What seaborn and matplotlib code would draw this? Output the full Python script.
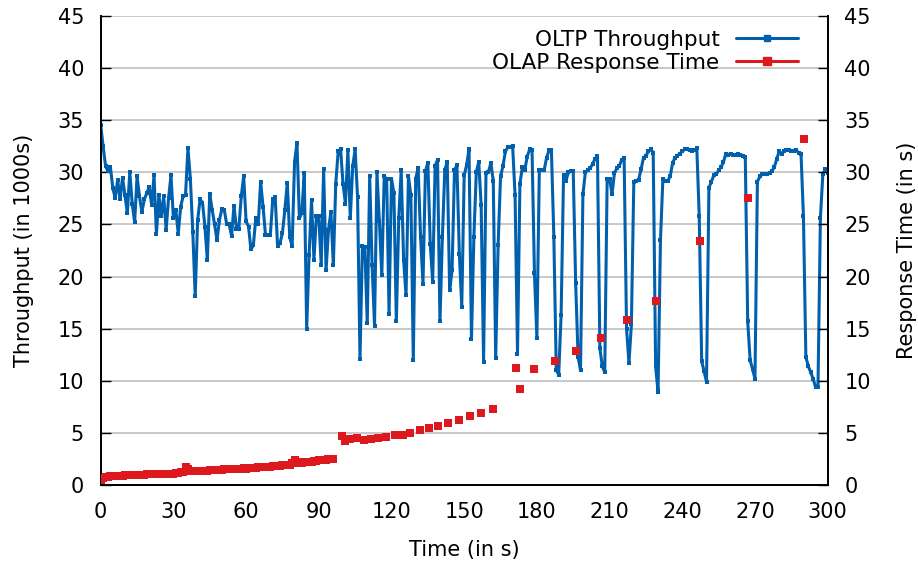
import matplotlib
matplotlib.use("Agg")
import matplotlib.pyplot as plt
import seaborn as sns
import pandas as pd
from matplotlib.lines import Line2D

# OLTP throughput (in 1000s), one sample per second, 0..300 s
oltp_tps = [
    34.5, 32.5, 30.6, 30.1, 30.5, 28.5, 27.5, 29.3, 27.4, 29.5,
    27.8, 26.1, 30.0, 27.0, 25.2, 29.6, 27.7, 26.2, 27.4, 28.0,
    28.6, 26.9, 29.7, 24.1, 27.8, 25.8, 27.7, 24.5, 27.5, 29.7,
    25.6, 26.4, 24.1, 26.7, 27.7, 27.8, 32.3, 29.4, 24.3, 18.1,
    25.4, 27.4, 27.1, 24.8, 21.6, 27.9, 26.4, 25.0, 23.5, 25.4,
    26.5, 26.4, 25.0, 25.0, 23.9, 26.8, 24.6, 24.6, 27.7, 29.6,
    25.3, 24.8, 22.6, 23.0, 25.6, 25.0, 29.1, 26.7, 24.0, 24.0,
    24.0, 27.4, 27.6, 22.9, 23.2, 24.2, 26.4, 29.0, 23.8, 22.9,
    31.0, 32.8, 25.6, 26.1, 29.9, 15.0, 22.1, 27.3, 21.6, 25.8,
    25.8, 21.1, 30.3, 20.6, 24.5, 26.2, 21.1, 28.9, 32.0, 32.2,
    28.9, 27.0, 32.1, 25.6, 30.6, 32.2, 27.6, 12.1, 22.9, 22.8,
    15.5, 29.6, 21.1, 15.3, 30.0, 25.3, 20.1, 29.6, 29.4, 16.4,
    29.4, 28.0, 15.7, 25.6, 30.2, 21.6, 18.2, 29.6, 27.8, 12.0,
    29.4, 30.4, 23.8, 19.3, 30.1, 30.9, 23.1, 19.5, 30.6, 31.2,
    15.7, 23.8, 30.2, 31.0, 18.7, 20.6, 30.2, 30.7, 22.2, 17.1,
    29.7, 30.7, 32.2, 14.0, 23.8, 30.0, 31.0, 26.9, 11.8, 29.9,
    30.0, 30.9, 29.2, 12.2, 23.0, 29.6, 30.6, 32.0, 32.4, 32.4,
    32.5, 27.8, 12.6, 28.9, 30.5, 30.2, 31.5, 32.2, 32.1, 20.3,
    14.1, 30.2, 30.2, 30.2, 31.4, 32.1, 32.1, 23.8, 11.0, 10.6,
    16.3, 29.7, 29.2, 30.0, 30.1, 30.1, 19.4, 12.3, 11.0, 27.9,
    30.0, 30.2, 30.4, 30.8, 31.3, 31.6, 13.1, 11.4, 10.8, 29.4,
    29.4, 27.9, 29.9, 30.4, 30.6, 31.2, 31.4, 15.0, 11.7, 15.4,
    29.1, 29.2, 29.3, 30.3, 31.4, 31.6, 32.0, 32.2, 31.9, 11.4,
    8.9, 23.5, 29.4, 29.2, 29.2, 29.6, 30.9, 31.4, 31.6, 31.8,
    32.0, 32.2, 32.2, 32.1, 32.0, 32.1, 32.3, 25.8, 11.9, 10.9,
    9.9, 28.5, 29.1, 29.7, 29.8, 30.2, 30.5, 31.0, 31.8, 31.7,
    31.8, 31.7, 31.7, 31.8, 31.7, 31.6, 31.5, 15.7, 12.0, 11.1,
    10.2, 29.1, 29.6, 29.8, 29.8, 29.8, 29.9, 30.1, 30.5, 31.3,
    32.0, 31.8, 32.0, 32.1, 32.1, 32.0, 32.0, 32.1, 31.9, 31.8,
    25.8, 12.3, 11.4, 10.8, 10.2, 9.4, 9.4, 25.6, 29.8, 30.3,
    29.9,
]
oltp_time = list(range(len(oltp_tps)))

# OLAP response time (in s): one query per second at first, then sparser
olap_resp = [
    0.5, 0.7, 0.8, 0.8, 0.85, 0.85, 0.9, 0.9, 0.9, 0.9,
    0.95, 0.95, 0.95, 0.95, 0.95, 1.0, 1.0, 1.0, 1.0, 1.05,
    1.05, 1.05, 1.05, 1.05, 1.05, 1.1, 1.05, 1.1, 1.1, 1.1,
    1.1, 1.15, 1.15, 1.2, 1.2, 1.75, 1.5, 1.35, 1.3, 1.3,
    1.3, 1.35, 1.35, 1.35, 1.35, 1.4, 1.4, 1.4, 1.45, 1.45,
    1.45, 1.5, 1.5, 1.5, 1.5, 1.5, 1.55, 1.5, 1.55, 1.6,
    1.5, 1.6, 1.6, 1.65, 1.65, 1.7, 1.7, 1.7, 1.75, 1.75,
    1.75, 1.8, 1.8, 1.85, 1.85, 1.9, 1.9, 1.9, 1.95, 2.1,
    2.4, 2.2, 2.1, 2.15, 2.2, 2.2, 2.25, 2.25, 2.3, 2.3,
    2.35, 2.35, 2.4, 2.4, 2.45, 2.45, 2.5,
    4.7, 4.2, 4.4, 4.5, 4.3, 4.4, 4.5, 4.6, 4.8, 4.8,
    5.0, 5.3, 5.5, 5.7, 5.9, 6.2, 6.6, 6.9, 7.3, 11.2,
    9.2, 11.1, 11.9, 12.9, 14.1, 15.8, 17.7, 23.4, 27.5, 33.2,
]
olap_time = list(range(97)) + [
    99.7, 100.7, 102.8, 105.8, 108.7, 111.6, 114.5, 117.8, 121.6, 124.6,
    127.5, 131.6, 135.4, 139.2, 143.2, 147.7, 152.6, 156.8, 162.0, 171.2,
    172.9, 179.0, 187.3, 196.3, 206.3, 217.1, 229.2, 247.3, 267.1, 290.3,
]

y_ticks = list(range(0, 46, 5))
x_ticks = list(range(0, 301, 30))

blue = "#0060ad"
red = "#dd181f"

oltp_df = pd.DataFrame({"time": oltp_time, "tps": oltp_tps})
olap_df = pd.DataFrame({"time": olap_time, "resp": olap_resp})

sns.set_style("white")
plt.rcParams["font.family"] = ["DejaVu Sans"]
plt.rcParams.update({"text.color": "black", "axes.labelcolor": "black",
                     "xtick.color": "black", "ytick.color": "black"})

fig = plt.figure(figsize=(9.18, 5.61), dpi=100)
ax = fig.add_axes([0.1097, 0.1355, 0.7919, 0.836])
ax2 = ax.twinx()

for y in y_ticks[1:]:
    ax.axhline(y, color="#c4c4c4", lw=1.3, zorder=0)

sns.lineplot(data=oltp_df, x="time", y="tps", ax=ax, color=blue, lw=2.2,
             marker="s", markersize=3.4, markeredgewidth=0, zorder=3)
sns.scatterplot(data=olap_df, x="time", y="resp", ax=ax2, color=red,
                marker="s", s=36, linewidth=0, zorder=4)

for a in (ax, ax2):
    a.set_xlim(0, 300)
    a.set_ylim(0, 45)
    a.set_yticks(y_ticks)
    for s in a.spines.values():
        s.set_color("black")
        s.set_linewidth(1.3)

ax.set_xticks(x_ticks)
ax.tick_params(axis="x", direction="in", length=7, width=1, labelsize=15, pad=12)
ax.tick_params(axis="y", direction="in", length=7, width=1, labelsize=15, pad=12)
ax2.tick_params(axis="y", direction="in", length=7, width=1, labelsize=15, pad=12)
ax.spines["top"].set_visible(False)
ax2.spines["top"].set_visible(False)

ax.set_xlabel("Time (in s)", fontsize=15, labelpad=13)
ax.set_ylabel("Throughput (in 1000s)", fontsize=15, labelpad=17)
ax2.set_ylabel("Response Time (in s)", fontsize=15, labelpad=19)

handles = [
    Line2D([], [], color=blue, lw=2.2, marker="s", markersize=4),
    Line2D([], [], color=red, lw=2.2, marker="s", markersize=6),
]
ax2.legend(handles, ["OLTP Throughput", "OLAP Response Time"], loc="upper right",
           bbox_to_anchor=(0.986, 1.012), frameon=False, fontsize=15.5, markerfirst=False,
           handlelength=2.9, handletextpad=0.75, labelspacing=0.15)

fig.savefig("out.png", dpi=100)
